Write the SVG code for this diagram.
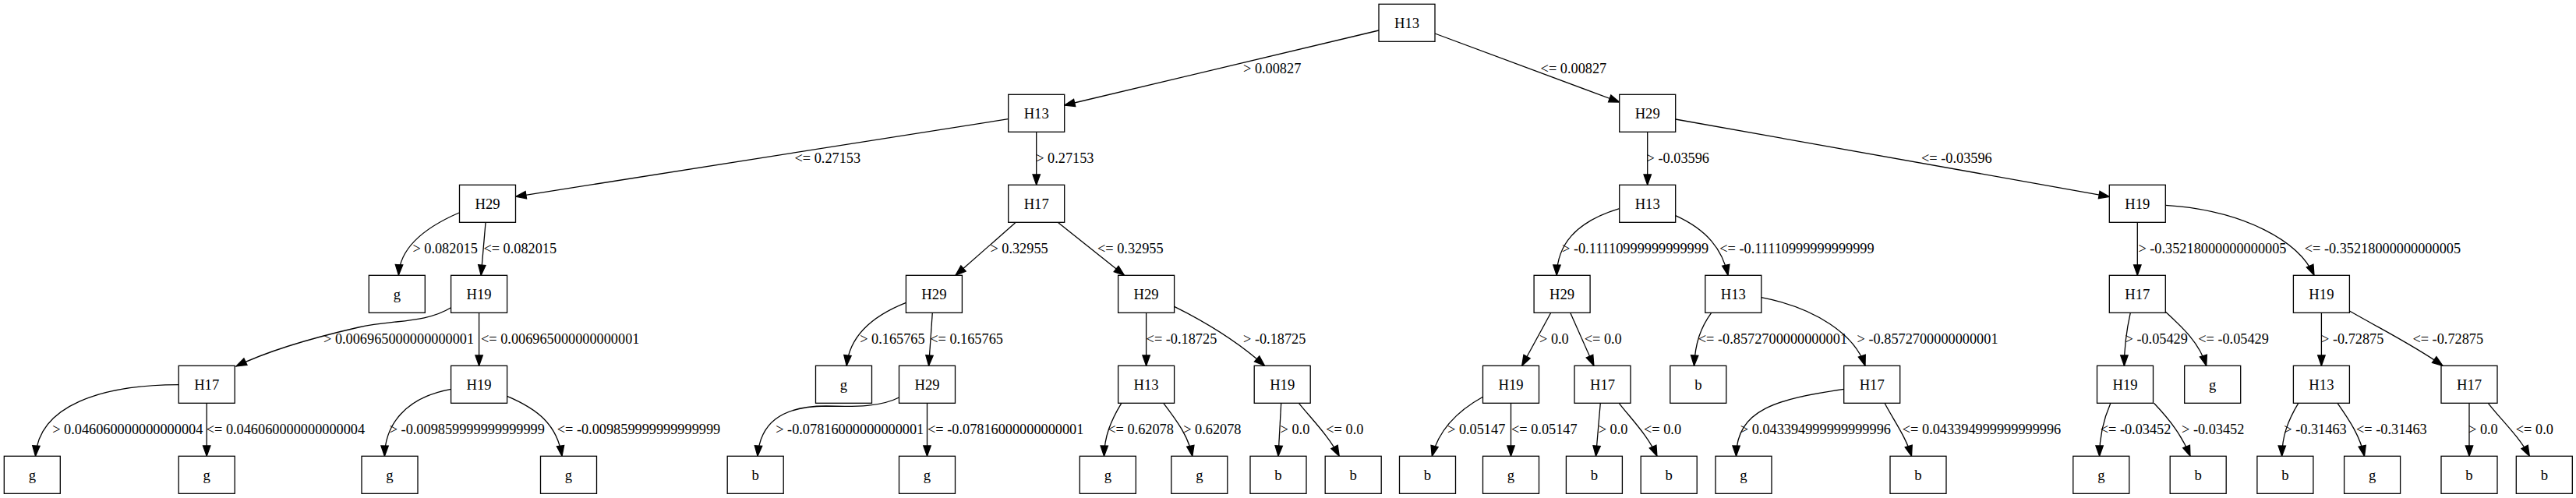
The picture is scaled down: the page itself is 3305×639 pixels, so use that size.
<svg xmlns="http://www.w3.org/2000/svg" width="3305" height="639" viewBox="0 0 3305 639">
<style>
.n rect{fill:#fff;stroke:#000;stroke-width:1.3}
.n text{font-family:"Liberation Serif","Times New Roman",serif;font-size:18.67px;text-anchor:middle;fill:#000}
.e path{fill:none;stroke:#000;stroke-width:1.3;marker-end:url(#ah)}
.l text{font-family:"Liberation Serif","Times New Roman",serif;font-size:18.3px;fill:#000}
</style>
<defs>
<marker id="ah" markerUnits="userSpaceOnUse" markerWidth="16" markerHeight="12" refX="13.3" refY="4.7" orient="auto" viewBox="0 0 16 12" overflow="visible">
<path d="M0,0 L13.3,4.7 L0,9.4 Z" fill="#000" stroke="#000" stroke-width="1.3"/>
</marker>
</defs>
<rect width="3305" height="639" fill="#fff"/>
<g id="connectors" class="e">
<path d="M1769,39 L1365.7,135"/>
<path d="M1841,43 L2077.7,131"/>
<path d="M1293.7,152.7 L661.7,252.3"/>
<path d="M1329.7,169.3 L1329.7,237.3"/>
<path d="M2113.7,169.3 L2113.7,237.3"/>
<path d="M2149.7,153 L2706.3,252.3"/>
<path d="M589,273 C545,292 513,318 511.4,353"/>
<path d="M623,285.7 L617.2,353.3"/>
<path d="M578.6,394.7 C545,415 505,410 460,420 C390,436 340,452 303,470"/>
<path d="M614.6,401.3 L614.6,469.3"/>
<path d="M229.2,493.7 C130,494 50,520 45.5,585.3"/>
<path d="M265.2,517.3 L265.2,585.3"/>
<path d="M578.6,499.3 C520,510 494,545 493.4,585.3"/>
<path d="M650.6,508.3 C690,525 715,545 721,585.3"/>
<path d="M1302.7,285.7 L1226,353.3"/>
<path d="M1357.8,285.7 L1442.5,353.3"/>
<path d="M1162.5,388.3 C1120,405 1090,430 1086.2,469.3"/>
<path d="M1196.3,401.3 L1191.6,469.3"/>
<path d="M1153.5,510 C1130,522 1100,522 1060,521 C1000,521 975,545 972,585.3"/>
<path d="M1189.5,517.3 L1189.5,585.3"/>
<path d="M1470.6,401.3 L1470.6,469.3"/>
<path d="M1506.6,393.3 C1550,415 1590,440 1622.5,469.3"/>
<path d="M1438.8,517.3 C1425,540 1417,560 1416.5,585.3"/>
<path d="M1492.8,517.3 C1510,540 1525,560 1529.8,585.3"/>
<path d="M1643.7,517.3 L1640,585.3"/>
<path d="M1666.4,517.3 C1685,540 1705,560 1718.2,585.3"/>
<path d="M2077.7,267.7 C2020,285 1998,315 1997.2,353.3"/>
<path d="M2149.7,276.7 C2190,295 2210,320 2217,353.3"/>
<path d="M1989.8,401.3 L1952.7,469.3"/>
<path d="M2014.7,401.3 L2044.9,469.3"/>
<path d="M2195.7,401.3 C2182,420 2175,440 2173.5,469.3"/>
<path d="M2259.8,381.7 C2330,395 2380,430 2393,469.3"/>
<path d="M1902.5,509.3 C1865,530 1845,555 1837.3,585.3"/>
<path d="M1938.5,517.3 L1938.5,585.3"/>
<path d="M2053.3,517.3 L2047.5,585.3"/>
<path d="M2077.2,517.3 C2095,540 2115,560 2125.9,585.3"/>
<path d="M2365.7,499.3 C2280,512 2228,525 2227.5,585.3"/>
<path d="M2418,517.3 C2430,540 2445,560 2452.5,585.3"/>
<path d="M2742.3,285.3 L2742.3,353.3"/>
<path d="M2778.3,263.3 C2880,270 2950,310 2969,353.3"/>
<path d="M2733.3,401.3 C2728,425 2725.4,445 2725.4,469.3"/>
<path d="M2778.3,400 C2800,420 2822,440 2830.7,469.3"/>
<path d="M2978.4,401.3 L2978.4,469.3"/>
<path d="M3014.4,399 C3060,425 3100,445 3134,469.3"/>
<path d="M2707.9,517.3 C2698,540 2693.6,560 2693.6,585.3"/>
<path d="M2763.5,517.3 C2785,540 2800,560 2810,585.3"/>
<path d="M2948.8,517.3 C2935,540 2928,560 2927.6,585.3"/>
<path d="M2999,517.3 C3015,540 3028,560 3033.5,585.3"/>
<path d="M3168,517.3 L3168,585.3"/>
<path d="M3192.3,517.3 C3210,540 3232,560 3245.3,585.3"/>
</g>
<g id="labels" class="l">
<text x="1595" y="93.5">&gt; 0.00827</text>
<text x="1976.6" y="93.5">&lt;= 0.00827</text>
<text x="1019.5" y="209">&lt;= 0.27153</text>
<text x="1329.2" y="209">&gt; 0.27153</text>
<text x="2112.6" y="209">&gt; -0.03596</text>
<text x="2465" y="209">&lt;= -0.03596</text>
<text x="529.4" y="324.5">&gt; 0.082015</text>
<text x="620.4" y="324.5">&lt;= 0.082015</text>
<text x="1270.4" y="324.5">&gt; 0.32955</text>
<text x="1408" y="324.5">&lt;= 0.32955</text>
<text x="2004" y="324.5">&gt; -0.11110999999999999</text>
<text x="2206.3" y="324.5">&lt;= -0.11110999999999999</text>
<text x="2743.4" y="324.5">&gt; -0.35218000000000005</text>
<text x="2956.7" y="324.5">&lt;= -0.35218000000000005</text>
<text x="415" y="441">&gt; 0.006965000000000001</text>
<text x="617" y="441">&lt;= 0.006965000000000001</text>
<text x="1103.2" y="441">&gt; 0.165765</text>
<text x="1193.2" y="441">&lt;= 0.165765</text>
<text x="1470.6" y="441">&lt;= -0.18725</text>
<text x="1595" y="441">&gt; -0.18725</text>
<text x="1975" y="441">&gt; 0.0</text>
<text x="2032.7" y="441">&lt;= 0.0</text>
<text x="2178.8" y="441">&lt;= -0.8572700000000001</text>
<text x="2382.6" y="441">&gt; -0.8572700000000001</text>
<text x="2726.5" y="441">&gt; -0.05429</text>
<text x="2820.2" y="441">&lt;= -0.05429</text>
<text x="2978" y="441">&gt; -0.72875</text>
<text x="3095.4" y="441">&lt;= -0.72875</text>
<text x="67.2" y="556.5">&gt; 0.046060000000000004</text>
<text x="264.7" y="556.5">&lt;= 0.046060000000000004</text>
<text x="499.7" y="556.5">&gt; -0.009859999999999999</text>
<text x="714.7" y="556.5">&lt;= -0.009859999999999999</text>
<text x="995.2" y="556.5">&gt; -0.07816000000000001</text>
<text x="1190" y="556.5">&lt;= -0.07816000000000001</text>
<text x="1421.3" y="556.5">&lt;= 0.62078</text>
<text x="1518.2" y="556.5">&gt; 0.62078</text>
<text x="1642.6" y="556.5">&gt; 0.0</text>
<text x="1701.3" y="556.5">&lt;= 0.0</text>
<text x="1857" y="556.5">&gt; 0.05147</text>
<text x="1939" y="556.5">&lt;= 0.05147</text>
<text x="2050.7" y="556.5">&gt; 0.0</text>
<text x="2109" y="556.5">&lt;= 0.0</text>
<text x="2232.8" y="556.5">&gt; 0.043394999999999996</text>
<text x="2440.8" y="556.5">&lt;= 0.043394999999999996</text>
<text x="2694.7" y="556.5">&lt;= -0.03452</text>
<text x="2799" y="556.5">&gt; -0.03452</text>
<text x="2930.3" y="556.5">&gt; -0.31463</text>
<text x="3023" y="556.5">&lt;= -0.31463</text>
<text x="3167" y="556.5">&gt; 0.0</text>
<text x="3227.8" y="556.5">&lt;= 0.0</text>
</g>
<g id="n0" class="n"><rect x="1769" y="5.3" width="72" height="48"/><text x="1805" y="35.5">H13</text></g>
<g id="n1" class="n"><rect x="1293.7" y="121.3" width="72" height="48"/><text x="1329.7" y="151.5">H13</text></g>
<g id="n2" class="n"><rect x="2077.7" y="121.3" width="72" height="48"/><text x="2113.7" y="151.5">H29</text></g>
<g id="n3" class="n"><rect x="589.5" y="237.3" width="72" height="48"/><text x="625.5" y="267.5">H29</text></g>
<g id="n4" class="n"><rect x="1293.7" y="237.3" width="72" height="48"/><text x="1329.7" y="267.5">H17</text></g>
<g id="n5" class="n"><rect x="2077.7" y="237.3" width="72" height="48"/><text x="2113.7" y="267.5">H13</text></g>
<g id="n6" class="n"><rect x="2706.3" y="237.3" width="72" height="48"/><text x="2742.3" y="267.5">H19</text></g>
<g id="n7" class="n"><rect x="473.3" y="353.3" width="72" height="48"/><text x="509.3" y="383.5">g</text></g>
<g id="n8" class="n"><rect x="578.6" y="353.3" width="72" height="48"/><text x="614.6" y="383.5">H19</text></g>
<g id="n9" class="n"><rect x="1162.4" y="353.3" width="72" height="48"/><text x="1198.4" y="383.5">H29</text></g>
<g id="n10" class="n"><rect x="1434.6" y="353.3" width="72" height="48"/><text x="1470.6" y="383.5">H29</text></g>
<g id="n11" class="n"><rect x="1968.1" y="353.3" width="72" height="48"/><text x="2004.1" y="383.5">H29</text></g>
<g id="n12" class="n"><rect x="2187.8" y="353.3" width="72" height="48"/><text x="2223.8" y="383.5">H13</text></g>
<g id="n13" class="n"><rect x="2706.3" y="353.3" width="72" height="48"/><text x="2742.3" y="383.5">H17</text></g>
<g id="n14" class="n"><rect x="2942.4" y="353.3" width="72" height="48"/><text x="2978.4" y="383.5">H19</text></g>
<g id="n15" class="n"><rect x="229.2" y="469.3" width="72" height="48"/><text x="265.2" y="499.5">H17</text></g>
<g id="n16" class="n"><rect x="578.6" y="469.3" width="72" height="48"/><text x="614.6" y="499.5">H19</text></g>
<g id="n17" class="n"><rect x="1046.5" y="469.3" width="72" height="48"/><text x="1082.5" y="499.5">g</text></g>
<g id="n18" class="n"><rect x="1153.5" y="469.3" width="72" height="48"/><text x="1189.5" y="499.5">H29</text></g>
<g id="n19" class="n"><rect x="1434.6" y="469.3" width="72" height="48"/><text x="1470.6" y="499.5">H13</text></g>
<g id="n20" class="n"><rect x="1609.2" y="469.3" width="72" height="48"/><text x="1645.2" y="499.5">H19</text></g>
<g id="n21" class="n"><rect x="1902.5" y="469.3" width="72" height="48"/><text x="1938.5" y="499.5">H19</text></g>
<g id="n22" class="n"><rect x="2020" y="469.3" width="72" height="48"/><text x="2056" y="499.5">H17</text></g>
<g id="n23" class="n"><rect x="2142.8" y="469.3" width="72" height="48"/><text x="2178.8" y="499.5">b</text></g>
<g id="n24" class="n"><rect x="2365.7" y="469.3" width="72" height="48"/><text x="2401.7" y="499.5">H17</text></g>
<g id="n25" class="n"><rect x="2690.5" y="469.3" width="72" height="48"/><text x="2726.5" y="499.5">H19</text></g>
<g id="n26" class="n"><rect x="2802.7" y="469.3" width="72" height="48"/><text x="2838.7" y="499.5">g</text></g>
<g id="n27" class="n"><rect x="2942.4" y="469.3" width="72" height="48"/><text x="2978.4" y="499.5">H13</text></g>
<g id="n28" class="n"><rect x="3132" y="469.3" width="72" height="48"/><text x="3168" y="499.5">H17</text></g>
<g id="n29" class="n"><rect x="5.3" y="585.3" width="72" height="48"/><text x="41.3" y="615.5">g</text></g>
<g id="n30" class="n"><rect x="229.2" y="585.3" width="72" height="48"/><text x="265.2" y="615.5">g</text></g>
<g id="n31" class="n"><rect x="464" y="585.3" width="72" height="48"/><text x="500" y="615.5">g</text></g>
<g id="n32" class="n"><rect x="693.5" y="585.3" width="72" height="48"/><text x="729.5" y="615.5">g</text></g>
<g id="n33" class="n"><rect x="933.2" y="585.3" width="72" height="48"/><text x="969.2" y="615.5">b</text></g>
<g id="n34" class="n"><rect x="1153.5" y="585.3" width="72" height="48"/><text x="1189.5" y="615.5">g</text></g>
<g id="n35" class="n"><rect x="1385.3" y="585.3" width="72" height="48"/><text x="1421.3" y="615.5">g</text></g>
<g id="n36" class="n"><rect x="1502.8" y="585.3" width="72" height="48"/><text x="1538.8" y="615.5">g</text></g>
<g id="n37" class="n"><rect x="1604" y="585.3" width="72" height="48"/><text x="1640" y="615.5">b</text></g>
<g id="n38" class="n"><rect x="1700.2" y="585.3" width="72" height="48"/><text x="1736.2" y="615.5">b</text></g>
<g id="n39" class="n"><rect x="1795.5" y="585.3" width="72" height="48"/><text x="1831.5" y="615.5">b</text></g>
<g id="n40" class="n"><rect x="1902.5" y="585.3" width="72" height="48"/><text x="1938.5" y="615.5">g</text></g>
<g id="n41" class="n"><rect x="2009.4" y="585.3" width="72" height="48"/><text x="2045.4" y="615.5">b</text></g>
<g id="n42" class="n"><rect x="2105.2" y="585.3" width="72" height="48"/><text x="2141.2" y="615.5">b</text></g>
<g id="n43" class="n"><rect x="2201" y="585.3" width="72" height="48"/><text x="2237" y="615.5">g</text></g>
<g id="n44" class="n"><rect x="2425" y="585.3" width="72" height="48"/><text x="2461" y="615.5">b</text></g>
<g id="n45" class="n"><rect x="2659.8" y="585.3" width="72" height="48"/><text x="2695.8" y="615.5">g</text></g>
<g id="n46" class="n"><rect x="2784.2" y="585.3" width="72" height="48"/><text x="2820.2" y="615.5">b</text></g>
<g id="n47" class="n"><rect x="2895.9" y="585.3" width="72" height="48"/><text x="2931.9" y="615.5">b</text></g>
<g id="n48" class="n"><rect x="3007.6" y="585.3" width="72" height="48"/><text x="3043.6" y="615.5">g</text></g>
<g id="n49" class="n"><rect x="3132" y="585.3" width="72" height="48"/><text x="3168" y="615.5">b</text></g>
<g id="n50" class="n"><rect x="3228.3" y="585.3" width="72" height="48"/><text x="3264.3" y="615.5">b</text></g>
</svg>
